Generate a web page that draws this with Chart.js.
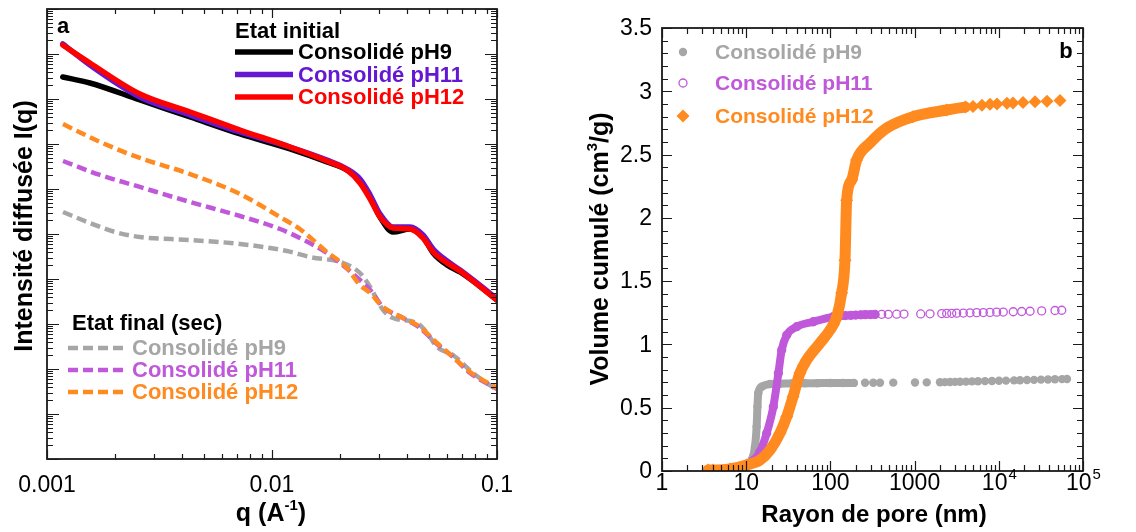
<!DOCTYPE html>
<html>
<head>
<meta charset="utf-8">
<script src="https://cdn.jsdelivr.net/npm/chart.js@4/dist/chart.umd.min.js"></script>
<style>
  html, body { margin: 0; padding: 0; background: #fff; }
  #wrap { position: relative; width: 1136px; height: 532px; }
  canvas { position: absolute; top: 0; }
</style>
</head>
<body>
<div id="wrap">
  <canvas id="saxs" width="560" height="532" style="left:0px"></canvas>
  <canvas id="poro" width="576" height="532" style="left:560px"></canvas>
</div>
<script>
// ---------- panel a : SAXS curves ----------
var qInit    = [0.001175, 0.001552, 0.002588, 0.004325, 0.00721, 0.01202, 0.01754, 0.02154, 0.0246, 0.0273, 0.0302, 0.0345, 0.0411, 0.0469, 0.052, 0.06, 0.0685, 0.0815, 0.1];
var initPH9  = [3.08e8, 2.27e8, 9.5e7, 3.98e7, 1.67e7, 7.74e6, 3.98e6, 2.64e6, 1.58e6, 6.6e5, 2.39e5, 1.11e5, 1.29e5, 8.6e4, 3.8e4, 2.05e4, 1.43e4, 7.7e3, 3.4e3];
var initPH11 = [1.67e9, 5.7e8, 1.11e8, 4.41e7, 1.85e7, 8.58e6, 4.41e6, 2.78e6, 1.67e6, 7.36e5, 2.78e5, 1.43e5, 1.43e5, 9.5e4, 4.64e4, 2.51e4, 1.58e4, 8.15e3, 3.6e3];
var initPH12 = [1.58e9, 6.3e8, 1.29e8, 5.14e7, 2.05e7, 8.58e6, 4.19e6, 2.64e6, 1.36e6, 6.0e5, 2.39e5, 1.36e5, 1.29e5, 8.15e4, 3.98e4, 2.27e4, 1.51e4, 7.7e3, 3.4e3];

var qFinal    = [0.001178, 0.001721, 0.002588, 0.004325, 0.00721, 0.01085, 0.0133, 0.01754, 0.02112, 0.0246, 0.0273, 0.03113, 0.0382, 0.0455, 0.0541, 0.0637, 0.0759, 0.1];
var finalPH12 = [2.78e7, 1.11e7, 4.89e6, 2.15e6, 7.74e5, 2.39e5, 1.29e5, 3.98e4, 1.95e4, 7.36e3, 4.89e3, 2.39e3, 1.36e3, 858, 378, 185, 85.8, 37.8];
var finalPH11 = [4.19e6, 2.05e6, 1.11e6, 5.14e5, 2.51e5, 1.29e5, 8.15e4, 3.78e4, 1.85e4, 9.5e3, 5.7e3, 2.39e3, 1.36e3, 815, 360, 185, 81.5, 36];
var qGray     = [0.001178, 0.001553, 0.002005, 0.002588, 0.004325, 0.00721, 0.01166, 0.01475, 0.0207, 0.0246, 0.0273, 0.03113, 0.0345, 0.0441, 0.0489, 0.0541, 0.0637, 0.0782, 0.1];
var finalPH9  = [3.08e5, 1.75e5, 1.11e5, 8.58e4, 7.36e4, 6.0e4, 4.19e4, 3.08e4, 2.27e4, 1.36e4, 6.64e3, 2.05e3, 1.36e3, 1.05e3, 631, 308, 205, 81.5, 34.1];

var qTicks = [0.001, 0.01, 0.1];
var qTickText = ["0.001", "0.01", "0.1"];

// ---------- panel b : cumulative pore volume ----------
var rPH9 = [5, 8, 10, 11.6, 12.7, 13.3, 13.6, 13.9, 15.3, 19.2, 25, 35, 50, 70, 100, 140, 190,
            258, 323, 388, 558, 1011, 1393, 2003, 2296, 2633, 3020, 3460, 4074, 4806, 5660, 6855, 8300,
            10050, 12180, 15170, 17860, 21630, 26190, 31700, 38370, 46450, 56400, 64570];
var vPH9 = [0.005, 0.02, 0.04, 0.087, 0.19, 0.35, 0.508, 0.614, 0.666, 0.687, 0.69, 0.692, 0.693, 0.694, 0.695, 0.695, 0.696,
            0.697, 0.697, 0.697, 0.698, 0.699, 0.7, 0.701, 0.702, 0.703, 0.704, 0.705, 0.706, 0.708, 0.709, 0.71, 0.711,
            0.713, 0.714, 0.716, 0.717, 0.719, 0.72, 0.722, 0.723, 0.725, 0.726, 0.727];
var rPH11 = [5, 8, 10, 12, 14.5, 17.5, 21, 24.1, 26.4, 30.3, 39.8, 62.7, 108, 130, 150, 175, 200, 230, 260, 300, 340,
             407, 487, 613, 748, 1182, 1524, 2100, 2405, 2760, 3162, 3790, 4550, 5470, 6550, 7860, 9440, 11300,
             14860, 18700, 23500, 32300, 46500, 55900];
var vPH11 = [0.005, 0.02, 0.04, 0.08, 0.15, 0.298, 0.508, 0.772, 0.956, 1.074, 1.14, 1.179, 1.219, 1.225, 1.228, 1.23, 1.232, 1.234, 1.235, 1.236, 1.237,
             1.238, 1.238, 1.239, 1.24, 1.241, 1.242, 1.244, 1.245, 1.246, 1.247, 1.248, 1.25, 1.251, 1.252, 1.253, 1.255, 1.256,
             1.258, 1.26, 1.262, 1.265, 1.268, 1.27];
var rPH12 = [3.52, 4.03, 6.42, 10.1, 14.6, 19.2, 25.2, 30.3, 36.0, 43.5, 52.3, 75.2, 98.9, 119, 136, 149, 156, 179, 205, 295, 466, 957, 2405, 4000,
             4940, 6310, 7860, 9520, 12500, 14750, 19380, 26900, 37350, 53300];
var vPH12 = [0.008, 0.008, 0.016, 0.047, 0.087, 0.166, 0.30, 0.429, 0.587, 0.774, 0.877, 1.011, 1.114, 1.219, 1.406, 1.666, 2.14, 2.30, 2.457, 2.591, 2.709, 2.799, 2.852, 2.875,
             2.88, 2.89, 2.897, 2.9, 2.905, 2.908, 2.912, 2.917, 2.922, 2.927];

var rTicks = [1, 10, 100, 1000, 1e4, 1e5];
var rTickText = ["1", "10", "100", "1000", "10", "10"];
var rTickSup = ["", "", "", "", "4", "5"];
var vTicks = [0, 0.5, 1, 1.5, 2, 2.5, 3, 3.5];
var vTickText = ["0", "0.5", "1", "1.5", "2", "2.5", "3", "3.5"];

var labels = ["Consolidé pH9", "Consolidé pH11", "Consolidé pH12"];
var legendInit = "Etat initial";
var legendFinal = "Etat final (sec)";

var FONT = '"Liberation Sans", Arial, sans-serif';
var cRed = "#ff0000", cViolet = "#6418d2", cBlack = "#000000";
var cOrange = "#ff8a1f", cLilac = "#c058da", cGray = "#a6a6a6";

function pts(xs, ys) {
  return xs.map(function (x, i) { return { x: x, y: ys[i] }; });
}

// draws text made of normal and superscript parts, centred on cx
function rich(ctx, parts, cx, base, size) {
  var big = "bold " + size + "px " + FONT, small = "bold " + Math.round(size * 0.6) + "px " + FONT;
  var w = 0;
  parts.forEach(function (p) { ctx.font = p.sup ? small : big; w += ctx.measureText(p.t).width; });
  var x = cx - w / 2;
  ctx.textAlign = "left";
  ctx.textBaseline = "alphabetic";
  parts.forEach(function (p) {
    ctx.font = p.sup ? small : big;
    ctx.fillText(p.t, x, p.sup ? base - size * 0.45 : base);
    x += ctx.measureText(p.t).width;
  });
}

function tickList(scale) {
  var out = [];
  if (scale.type === "logarithmic") {
    var e0 = Math.round(Math.log10(scale.min)), e1 = Math.round(Math.log10(scale.max));
    for (var e = e0; e < e1; e++) {
      for (var k = 1; k < 10; k++) out.push({ v: k * Math.pow(10, e), major: k === 1 });
    }
    out.push({ v: scale.max, major: true });
  } else {
    for (var i = 0; i <= 35; i++) out.push({ v: i / 10, major: i % 5 === 0 });
  }
  return out;
}

// box round the plot with inward ticks on all four sides
var axisFrame = {
  id: "axisFrame",
  afterDatasetsDraw: function (chart, args, o) {
    var ctx = chart.ctx, a = chart.chartArea, xs = chart.scales.x, ys = chart.scales.y;
    ctx.save();
    ctx.strokeStyle = "#1a1a1a";
    ctx.lineWidth = 1.2;
    ctx.beginPath();
    tickList(xs).forEach(function (t) {
      var px = Math.round(xs.getPixelForValue(t.v)) + 0.5;
      var len = t.major ? o.xMajor : o.xMinor;
      ctx.moveTo(px, a.bottom); ctx.lineTo(px, a.bottom - len);
      ctx.moveTo(px, a.top); ctx.lineTo(px, a.top + len);
    });
    tickList(ys).forEach(function (t) {
      var py = Math.round(ys.getPixelForValue(t.v)) + 0.5;
      var len = t.major ? o.yMajor : o.yMinor;
      ctx.moveTo(a.left, py); ctx.lineTo(a.left + len, py);
      ctx.moveTo(a.right, py); ctx.lineTo(a.right - len, py);
    });
    ctx.stroke();
    ctx.lineWidth = 1.8;
    ctx.strokeRect(a.left, a.top, a.right - a.left, a.bottom - a.top);
    ctx.restore();
  }
};

var textA = {
  id: "textA",
  afterDraw: function (chart) {
    var ctx = chart.ctx, xs = chart.scales.x, ds = chart.data.datasets;
    ctx.save();
    ctx.fillStyle = "#000";
    ctx.font = "23px " + FONT;
    ctx.textAlign = "center";
    ctx.textBaseline = "alphabetic";
    qTicks.forEach(function (v, i) { ctx.fillText(qTickText[i], xs.getPixelForValue(v), 492); });
    rich(ctx, [{ t: "q (A" }, { t: "-1", sup: true }, { t: ")" }], 271, 521, 25);

    ctx.save();
    ctx.translate(32, 226);
    ctx.rotate(-Math.PI / 2);
    rich(ctx, [{ t: "Intensité diffusée I(q)" }], 0, 0, 25);
    ctx.restore();

    ctx.font = "bold 22px " + FONT;
    ctx.textAlign = "left";
    ctx.fillText("a", 57, 33);

    // legends
    ctx.textBaseline = "middle";
    ctx.fillText(legendInit, 235, 32);
    ctx.fillText(legendFinal, 72, 324);
    var groups = [
      { idx: [2, 1, 0], ys: [52, 74.5, 97], x0: 235, x1: 293, tx: 298 },
      { idx: [5, 4, 3], ys: [348, 370, 392], x0: 68, x1: 127, tx: 132 }
    ];
    groups.forEach(function (g) {
      g.idx.forEach(function (di, k) {
        var d = ds[di], y = g.ys[k];
        ctx.strokeStyle = d.borderColor;
        ctx.lineWidth = d.borderWidth;
        ctx.setLineDash(d.borderDash || []);
        ctx.beginPath();
        ctx.moveTo(g.x0, y); ctx.lineTo(g.x1, y);
        ctx.stroke();
        ctx.setLineDash([]);
        ctx.fillStyle = d.borderColor;
        ctx.fillText(d.label, g.tx, y + 1);
      });
    });
    ctx.restore();
  }
};

function lineSet(label, xs, ys, color, width, dash) {
  return {
    label: label,
    data: pts(xs, ys),
    showLine: true,
    borderColor: color,
    backgroundColor: color,
    borderWidth: width,
    borderDash: dash,
    borderCapStyle: dash ? "butt" : "round",
    borderJoinStyle: "round",
    cubicInterpolationMode: "monotone",
    pointRadius: 0
  };
}

new Chart(document.getElementById("saxs"), {
  type: "scatter",
  data: {
    datasets: [
      lineSet(labels[2], qInit, initPH12, cRed, 5.5),
      lineSet(labels[1], qInit, initPH11, cViolet, 5.5),
      lineSet(labels[0], qInit, initPH9, cBlack, 5.5),
      lineSet(labels[2], qFinal, finalPH12, cOrange, 4.5, [10, 5]),
      lineSet(labels[1], qFinal, finalPH11, cLilac, 4.5, [10, 5]),
      lineSet(labels[0], qGray, finalPH9, cGray, 4.5, [10, 5])
    ]
  },
  options: {
    responsive: false,
    animation: false,
    events: [],
    layout: { padding: { left: 47, top: 9, right: 63, bottom: 73 } },
    scales: {
      x: { type: "logarithmic", min: 0.001, max: 0.1, display: false },
      y: { type: "logarithmic", min: 1, max: 1e10, display: false }
    },
    plugins: {
      legend: { display: false },
      tooltip: { enabled: false },
      axisFrame: { xMajor: 9, xMinor: 5, yMajor: 12, yMinor: 6 }
    }
  },
  plugins: [axisFrame, textA]
});

// ---------- panel b ----------
function markerAt(ctx, d, x, y) {
  ctx.save();
  ctx.fillStyle = d.pointBackgroundColor;
  ctx.strokeStyle = d.pointBorderColor;
  ctx.lineWidth = d.pointBorderWidth;
  var r = d.pointRadius;
  ctx.beginPath();
  if (d.pointStyle === "rectRot") {
    ctx.moveTo(x, y - r); ctx.lineTo(x + r, y); ctx.lineTo(x, y + r); ctx.lineTo(x - r, y); ctx.closePath();
  } else {
    ctx.arc(x, y, r, 0, Math.PI * 2);
  }
  ctx.fill();
  if (d.pointBorderWidth > 0) ctx.stroke();
  ctx.restore();
}

var textB = {
  id: "textB",
  afterDraw: function (chart) {
    var ctx = chart.ctx, xs = chart.scales.x, ys = chart.scales.y, ds = chart.data.datasets;
    ctx.save();
    ctx.fillStyle = "#000";
    ctx.font = "23px " + FONT;
    ctx.textAlign = "right";
    ctx.textBaseline = "middle";
    vTicks.forEach(function (v, i) { ctx.fillText(vTickText[i], 92, ys.getPixelForValue(v) + 1); });

    ctx.textBaseline = "alphabetic";
    rTicks.forEach(function (v, i) {
      var px = xs.getPixelForValue(v);
      ctx.font = "23px " + FONT;
      var w = ctx.measureText(rTickText[i]).width;
      var ws = 0;
      if (rTickSup[i]) { ctx.font = "15px " + FONT; ws = ctx.measureText(rTickSup[i]).width; }
      var left = px - (w + ws) / 2;
      ctx.font = "23px " + FONT;
      ctx.textAlign = "left";
      ctx.fillText(rTickText[i], left, 490);
      if (rTickSup[i]) { ctx.font = "15px " + FONT; ctx.fillText(rTickSup[i], left + w + 1, 479); }
    });

    rich(ctx, [{ t: "Rayon de pore (nm)" }], 314, 522, 24);
    ctx.save();
    ctx.translate(48, 249);
    ctx.rotate(-Math.PI / 2);
    rich(ctx, [{ t: "Volume cumulé (cm" }, { t: "3", sup: true }, { t: "/g)" }], 0, 0, 25);
    ctx.restore();

    ctx.font = "bold 22px " + FONT;
    ctx.textAlign = "center";
    ctx.fillText("b", 506, 58);

    ctx.font = "bold 21px " + FONT;
    ctx.textAlign = "left";
    ctx.textBaseline = "middle";
    [2, 1, 0].forEach(function (di, k) {
      var d = ds[di], y = [52, 83, 116][k];
      markerAt(ctx, d, 123, y);
      ctx.fillStyle = d.textColor;
      ctx.fillText(d.label, 155, y + 1);
    });
    ctx.restore();
  }
};

function poreSet(label, xs, ys, color, width, lineUntil, point) {
  return {
    label: label,
    data: pts(xs, ys),
    showLine: true,
    borderColor: color,
    borderWidth: width,
    borderCapStyle: "round",
    borderJoinStyle: "round",
    cubicInterpolationMode: "monotone",
    segment: {
      borderColor: function (c) { return c.p1.parsed.x > lineUntil ? "rgba(0,0,0,0)" : undefined; }
    },
    pointStyle: point.style,
    pointRadius: point.r,
    pointBackgroundColor: point.fill,
    pointBorderColor: color,
    pointBorderWidth: point.bw,
    textColor: color
  };
}

new Chart(document.getElementById("poro"), {
  type: "scatter",
  data: {
    datasets: [
      poreSet(labels[2], rPH12, vPH12, cOrange, 11, 4500, { style: "rectRot", r: 6.5, fill: cOrange, bw: 0 }),
      poreSet(labels[1], rPH11, vPH11, cLilac, 8, 380, { style: "circle", r: 4, fill: "rgba(255,255,255,0)", bw: 1.3 }),
      poreSet(labels[0], rPH9, vPH9, cGray, 8, 220, { style: "circle", r: 4.2, fill: cGray, bw: 0 })
    ]
  },
  options: {
    responsive: false,
    animation: false,
    events: [],
    layout: { padding: { left: 102, top: 28, right: 53, bottom: 61 } },
    scales: {
      x: { type: "logarithmic", min: 1, max: 1e5, display: false },
      y: { type: "linear", min: 0, max: 3.5, display: false }
    },
    plugins: {
      legend: { display: false },
      tooltip: { enabled: false },
      axisFrame: { xMajor: 10, xMinor: 6, yMajor: 10, yMinor: 6 }
    }
  },
  plugins: [axisFrame, textB]
});
</script>
</body>
</html>
